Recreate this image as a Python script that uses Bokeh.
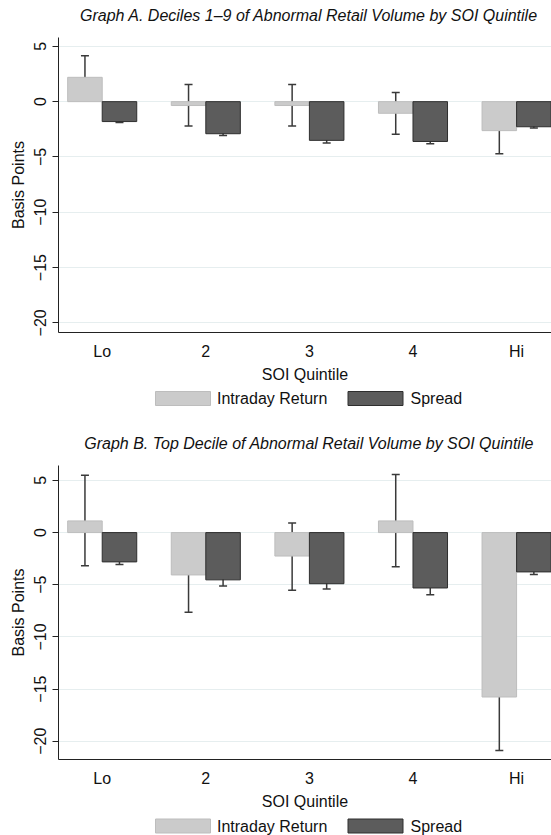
from bokeh.plotting import figure
from bokeh.models import (ColumnDataSource, Whisker, TeeHead, FixedTicker, Range1d)
from bokeh.core.properties import value
from bokeh.layouts import column
from bokeh.embed import file_html
from bokeh.resources import INLINE

# ---------------- data ----------------
quintiles = ["Lo", "2", "3", "4", "Hi"]
series_names = ["Intraday Return", "Spread"]
y_ticks = [-20, -15, -10, -5, 0, 5]
y_tick_labels = ["\u221220", "\u221215", "\u221210", "\u22125", "0", "5"]
x_title = "SOI Quintile"
y_title = "Basis Points"

a_title = "Graph A. Deciles 1\u20139 of Abnormal Retail Volume by SOI Quintile"
a_return = [2.2, -0.35, -0.35, -1.05, -2.62]
a_return_hi = [4.15, 1.55, 1.55, 0.82, -0.58]
a_return_lo = [0.3, -2.2, -2.2, -2.95, -4.7]
a_spread = [-1.8, -2.9, -3.5, -3.6, -2.27]
a_spread_hi = [-1.72, -2.75, -3.32, -3.42, -2.13]
a_spread_lo = [-1.88, -3.07, -3.73, -3.8, -2.38]

b_title = "Graph B. Top Decile of Abnormal Retail Volume by SOI Quintile"
b_return = [1.12, -4.06, -2.25, 1.12, -15.76]
b_return_hi = [5.5, -0.53, 0.91, 5.56, -10.68]
b_return_lo = [-3.19, -7.63, -5.53, -3.28, -20.88]
b_spread = [-2.81, -4.53, -4.9, -5.31, -3.77]
b_spread_hi = [-2.66, -3.94, -4.34, -4.69, -3.61]
b_spread_lo = [-3.06, -5.13, -5.41, -5.97, -4.02]

# ---------------- style ----------------
FONT = "Liberation Sans"
TXT = "#111111"
LIGHT, LIGHT_LINE = "#cbcbcb", "#bdbdbd"
DARK, DARK_LINE = "#5c5c5c", "#2e2e2e"
ERR = "#3a3a3a"
GRID = "#e6eeef"
BAR_W = 1 / 3
FIG_W = 551
LEFT = 58


def make_panel(ret, ret_lo, ret_hi, spr, spr_lo, spr_hi,
               y_lo, y_hi, height, top_border, bottom_border):
    pos = list(range(1, len(quintiles) + 1))
    src = ColumnDataSource(dict(
        x_ret=[c - BAR_W / 2 for c in pos], x_spr=[c + BAR_W / 2 for c in pos],
        ret=ret, ret_lo=ret_lo, ret_hi=ret_hi,
        spr=spr, spr_lo=spr_lo, spr_hi=spr_hi))

    p = figure(width=FIG_W, height=height,
               x_range=Range1d(0.578, 5.337), y_range=Range1d(y_lo, y_hi),
               output_backend="svg", toolbar_location=None,
               min_border_left=LEFT, min_border_right=0,
               min_border_top=top_border, min_border_bottom=bottom_border)
    p.outline_line_color = None
    p.background_fill_color = "white"
    p.border_fill_color = "white"

    p.vbar(x="x_ret", top="ret", bottom=0, width=BAR_W, source=src,
           fill_color=LIGHT, line_color=LIGHT_LINE, line_width=1)
    p.vbar(x="x_spr", top="spr", bottom=0, width=BAR_W, source=src,
           fill_color=DARK, line_color=DARK_LINE, line_width=1)

    for base, lo, hi in (("x_ret", "ret_lo", "ret_hi"), ("x_spr", "spr_lo", "spr_hi")):
        w = Whisker(base=base, lower=lo, upper=hi, source=src,
                    line_color=ERR, line_width=1.5,
                    upper_head=TeeHead(size=8, line_color=ERR, line_width=1.5),
                    lower_head=TeeHead(size=8, line_color=ERR, line_width=1.5))
        p.add_layout(w)

    # axes
    p.xaxis.ticker = FixedTicker(ticks=pos)
    p.xaxis.major_label_overrides = {c: q for c, q in zip(pos, quintiles)}
    p.xaxis.major_tick_line_color = None
    p.xaxis.minor_tick_line_color = None
    p.xaxis.axis_line_color = "#222222"
    p.xaxis.major_label_standoff = 4
    p.xaxis.axis_label = x_title
    p.xaxis.axis_label_standoff = 3

    p.yaxis.ticker = FixedTicker(ticks=y_ticks)
    p.yaxis.major_label_overrides = {t: s for t, s in zip(y_ticks, y_tick_labels)}
    p.yaxis.major_label_orientation = "parallel"
    p.yaxis.major_tick_out = 6
    p.yaxis.major_tick_in = 0
    p.yaxis.minor_tick_line_color = None
    p.yaxis.axis_line_color = "#222222"
    p.yaxis.major_tick_line_color = "#222222"
    p.yaxis.major_label_standoff = 6
    p.yaxis.axis_label = y_title
    p.yaxis.axis_label_standoff = 5

    for ax in (p.xaxis, p.yaxis):
        ax.major_label_text_font = FONT
        ax.major_label_text_font_size = "16px"
        ax.major_label_text_color = TXT
        ax.axis_label_text_font = FONT
        ax.axis_label_text_font_size = "16px"
        ax.axis_label_text_font_style = "normal"
        ax.axis_label_text_color = TXT

    p.xgrid.visible = False
    p.ygrid.grid_line_color = GRID
    p.ygrid.grid_line_width = 1
    return p


def make_strip(height):
    # a strip whose x coordinates are page pixels (frame spans LEFT..FIG_W),
    # holding the titles and the keys
    s = figure(width=FIG_W, height=height, x_range=Range1d(LEFT, FIG_W),
               y_range=Range1d(0, height), output_backend="svg",
               toolbar_location=None,
               min_border_left=LEFT, min_border_right=0,
               min_border_top=0, min_border_bottom=0,
               x_axis_location=None, y_axis_location=None)
    s.grid.visible = False
    s.outline_line_color = None
    return s


def make_title(text, height, y_mid):
    s = make_strip(height)
    s.text(x=[308.6], y=[y_mid], text=[text],
           text_font=value(FONT), text_font_size=value("16px"),
           text_font_style="italic", text_color=TXT,
           text_baseline="middle", text_align="center")
    return s


def make_legend(height, y_mid):
    lg = make_strip(height)
    sw_x = [182.5, 375.0]
    txt_x = [216.5, 410.0]
    lg.rect(x=sw_x, y=[y_mid] * 2, width=55, height=14,
            fill_color=[LIGHT, DARK], line_color=[LIGHT_LINE, DARK_LINE],
            line_width=1)
    lg.text(x=txt_x, y=[y_mid] * 2, text=series_names,
            text_font=value(FONT), text_font_size=value("16px"),
            text_color=TXT, text_baseline="middle", text_align="left")
    return lg


tA = make_title(a_title, 26, 11)
pA = make_panel(a_return, a_return_lo, a_return_hi,
                a_spread, a_spread_lo, a_spread_hi,
                -20.87, 5.8, 359, 11, 48)
lA = make_legend(27, 14)
tB = make_title(b_title, 40, 8.7)
pB = make_panel(b_return, b_return_lo, b_return_hi,
                b_spread, b_spread_lo, b_spread_hi,
                -21.75, 6.43, 360, 13, 48)
lB = make_legend(23, 9.5)

layout = column(tA, pA, lA, tB, pB, lB, spacing=0)
open("out.html", "w").write(file_html(layout, INLINE))
